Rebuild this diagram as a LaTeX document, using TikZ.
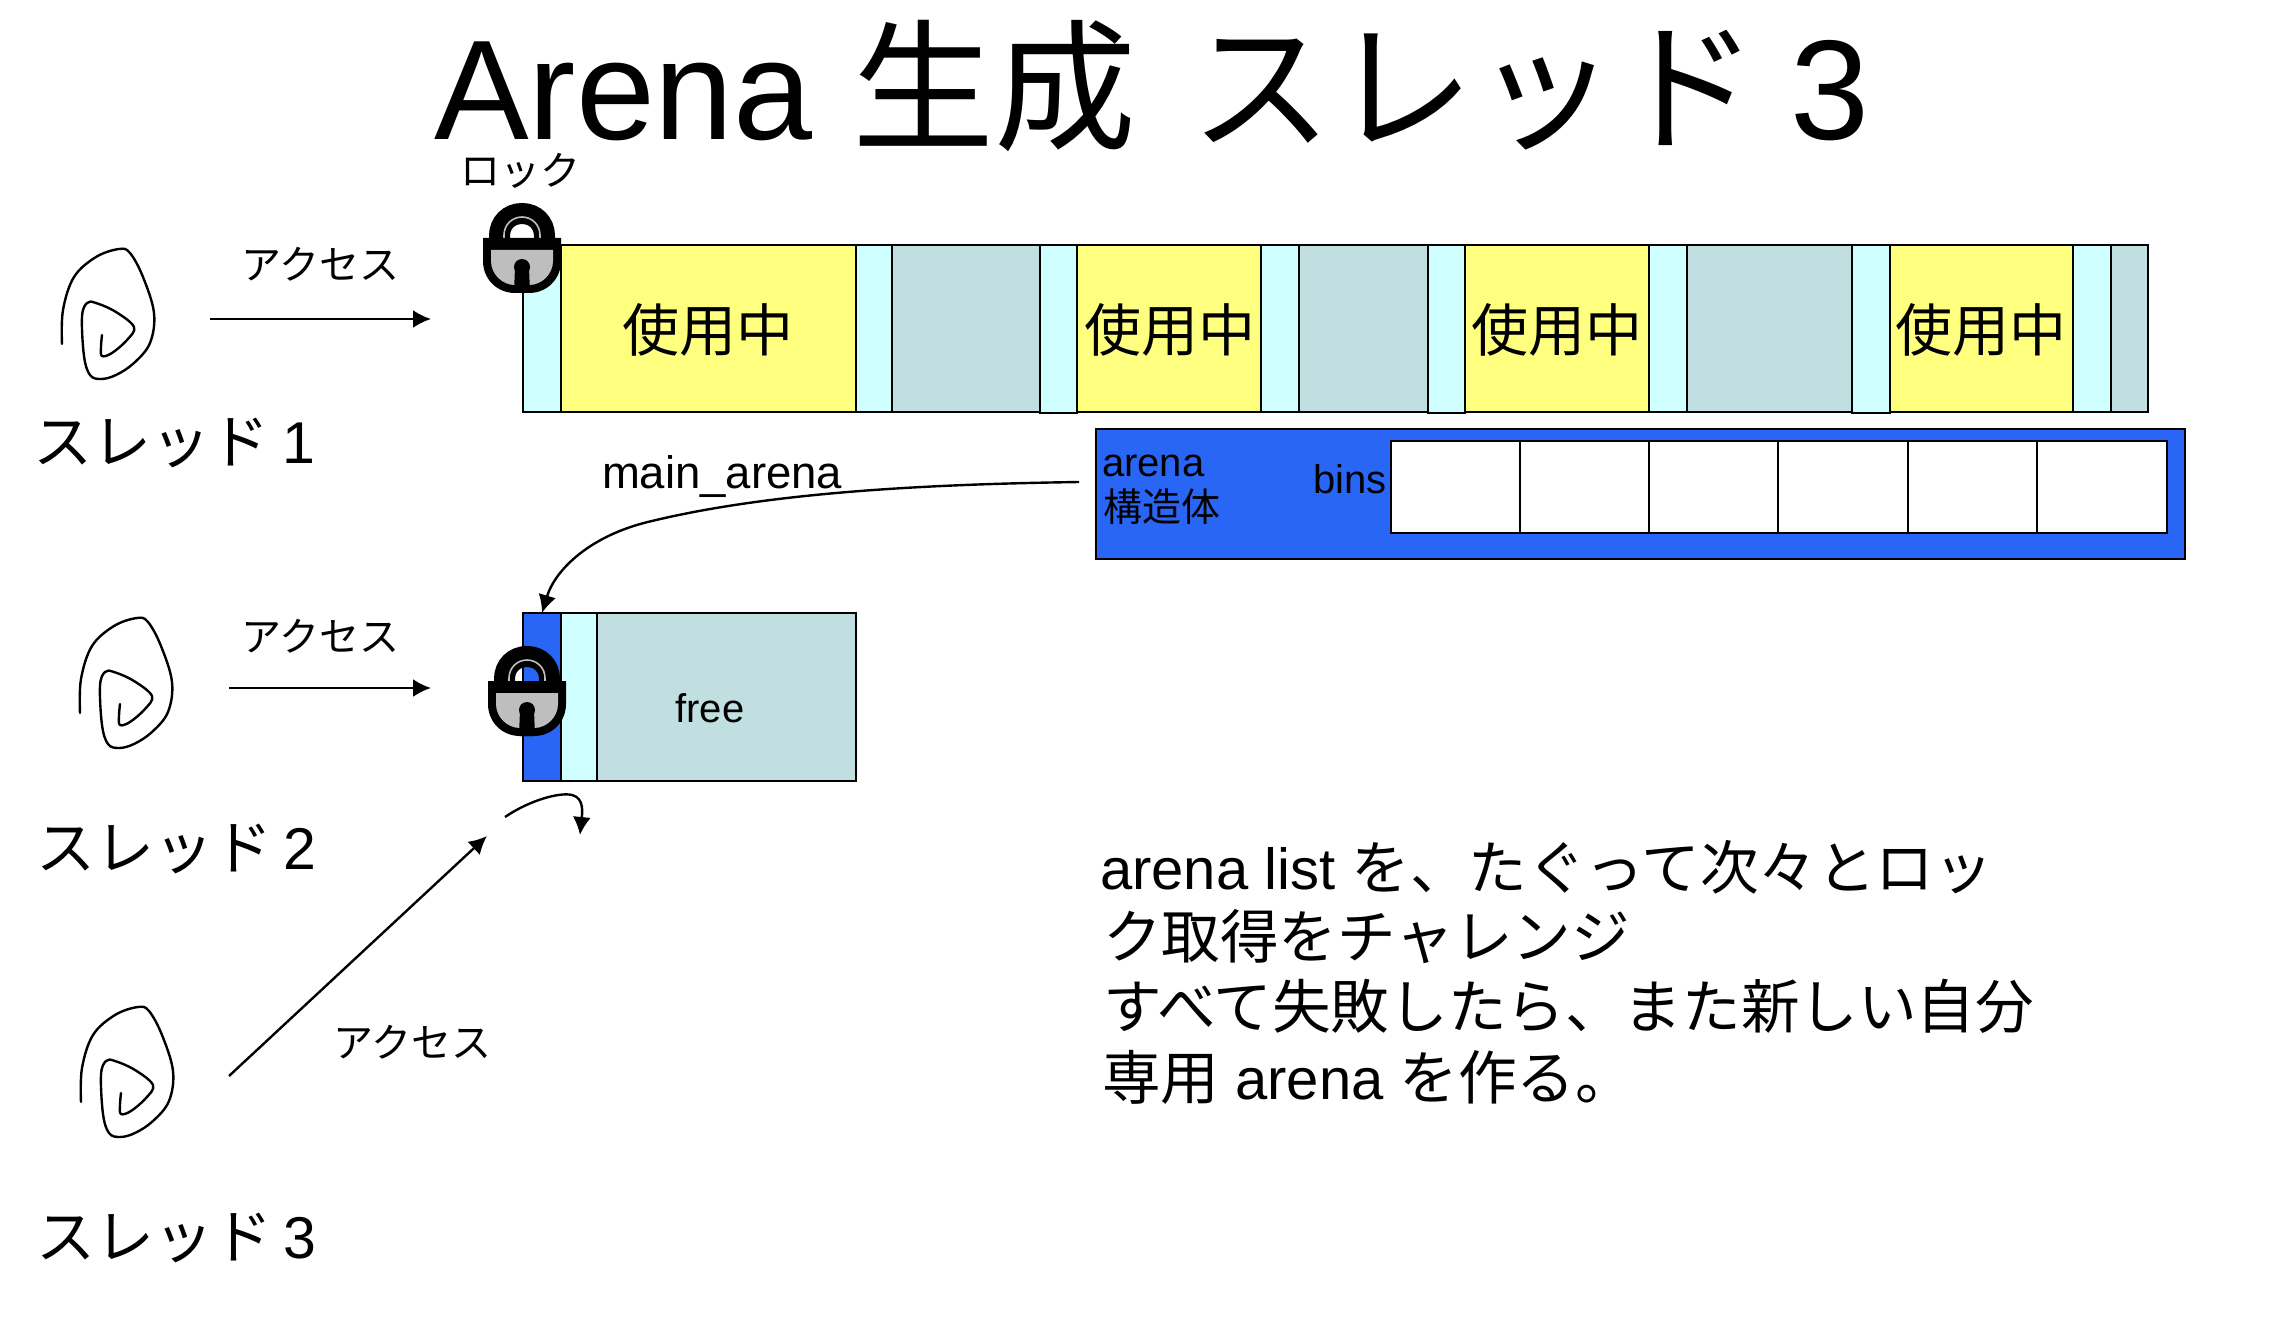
\documentclass[tikz,border=0pt]{standalone}
\usepackage{fontspec}
\setmainfont{Liberation Sans}
\newfontfamily\cjk{Noto Sans CJK JP}
\usetikzlibrary{arrows.meta}
\definecolor{cyanhd}{HTML}{CFFFFF}
\definecolor{yellowuse}{HTML}{FFFF7F}
\definecolor{tealfree}{HTML}{C1DFE1}
\definecolor{bluearena}{HTML}{2A66F5}
\definecolor{lockgray}{HTML}{BEBEBE}
\newcommand{\fsz}[1]{\fontsize{#1}{#1}\selectfont}
\tikzset{
  cellbox/.style={draw=black,line width=2.6pt,inner sep=0pt,outer sep=0pt},
  arrowline/.style={draw=black,line width=2.4pt,-{Latex[length=18pt,width=18pt]}},
  spiral/.style={draw=black,line width=2.4pt,line join=round,line cap=round},
  label40/.style={inner sep=0pt,outer sep=0pt,font=\fsz{40}},
  label57/.style={inner sep=0pt,outer sep=0pt,font=\fsz{57}},
  label58/.style={inner sep=0pt,outer sep=0pt,font=\fsz{58}},
  thlabel/.style={inner sep=0pt,outer sep=0pt,anchor=base west,font=\fsz{59}},
}
% \cellrect{name}{x1}{y1}{x2}{y2}{fill}
\newcommand{\cellrect}[6]{%
  \node[cellbox,fill=#6,minimum width={(#4-#2)*1pt},minimum height={(#5-#3)*1pt}] (#1) at ({(#2+#4)/2},{(#3+#5)/2}) {};}
\newcommand{\threadfig}[2]{%
  \draw[spiral,shift={(#1,#2)}] plot[smooth,tension=0.6] coordinates {(0,0) (1,-34) (12,-67) (34,-87) (57,-95) (68,-91) (81,-67) (92,-31) (88,-1) (72,19) (54,31) (39,35) (28,31) (22,12) (20,-27) (25,-41) (34,-41) (54,-32) (72,-17) (65,-4) (50,9) (40,12) (39,3) (40,-9)};}
\newcommand{\lockfig}[2]{%
  \begin{scope}[shift={(#1,#2)}]
    \draw[black,line width=21pt] (16.5,38) -- (16.5,33) .. controls (16.5,20) and (26,10.5) .. (39,10.5) .. controls (52,10.5) and (61.5,20) .. (61.5,33) -- (61.5,38);
    \draw[lockgray,line width=1.6pt] (21,36) -- (21,32) .. controls (21,22) and (29,14) .. (39,14) .. controls (49,14) and (57,22) .. (57,32) -- (57,36);
    \fill[black] (0,35) -- (78,35) -- (78,58) .. controls (78,76) and (64,90) .. (46,90) -- (32,90) .. controls (14,90) and (0,76) .. (0,58) -- cycle;
    \fill[lockgray] (8,47) -- (70,47) -- (70,58) .. controls (70,71) and (59,82) .. (46,82) -- (32,82) .. controls (19,82) and (8,71) .. (8,58) -- cycle;
    \fill[black] (39,64) circle[radius=8];
    \fill[black] (32,64) -- (46,64) -- (47,90) -- (31,90) -- cycle;
  \end{scope}}
\begin{document}
\begin{tikzpicture}[x=1pt,y=-1pt]
\useasboundingbox (0,0) rectangle (2270,1332);
% title
\node[inner sep=0pt,outer sep=0pt,anchor=base west,font=\fsz{142}] (title) at (434,140) {Arena {\cjk 生成\hspace{22pt} スレッド}\hspace{-7pt} 3};
% main heap bar
\cellrect{h1}{523}{245}{561}{412}{cyanhd}
\cellrect{u1}{561}{245}{856}{412}{yellowuse}
\cellrect{h2}{856}{245}{892}{412}{cyanhd}
\cellrect{f1}{892}{245}{1040}{412}{tealfree}
\cellrect{h3}{1040}{245}{1077}{413}{cyanhd}
\cellrect{u2}{1077}{245}{1261}{412}{yellowuse}
\cellrect{h4}{1261}{245}{1299}{412}{cyanhd}
\cellrect{f2}{1299}{245}{1428}{412}{tealfree}
\cellrect{h5}{1428}{245}{1465}{413}{cyanhd}
\cellrect{u3}{1465}{245}{1649}{412}{yellowuse}
\cellrect{h6}{1649}{245}{1687}{412}{cyanhd}
\cellrect{f3}{1687}{245}{1852}{412}{tealfree}
\cellrect{h7}{1852}{245}{1890}{413}{cyanhd}
\cellrect{u4}{1890}{245}{2073}{412}{yellowuse}
\cellrect{h8}{2073}{245}{2111}{412}{cyanhd}
\cellrect{f4}{2111}{245}{2148}{412}{tealfree}
\node[label57] (t1) at (708,330) {\cjk 使用中};
\node[label57] (t2) at (1170,330) {\cjk 使用中};
\node[label57] (t3) at (1557,330) {\cjk 使用中};
\node[label57] (t4) at (1981,330) {\cjk 使用中};
% arena struct
\cellrect{arena}{1096}{429}{2185}{559}{bluearena}
\cellrect{b1}{1391}{441}{1520}{533}{white}
\cellrect{b2}{1520}{441}{1649}{533}{white}
\cellrect{b3}{1649}{441}{1778}{533}{white}
\cellrect{b4}{1778}{441}{1908}{533}{white}
\cellrect{b5}{1908}{441}{2037}{533}{white}
\cellrect{b6}{2037}{441}{2167}{533}{white}
\node[label40,anchor=base west] (arenalbl) at (1102,476) {arena};
\node[inner sep=0pt,outer sep=0pt,font=\fsz{39},anchor=west] (structlbl) at (1103,507) {\cjk 構造体};
\node[label40,anchor=base east] (binslbl) at (1387,493) {bins};
% second heap
\cellrect{c1}{523}{613}{561}{781}{bluearena}
\cellrect{c2}{561}{613}{597}{781}{cyanhd}
\cellrect{c3}{597}{613}{856}{781}{tealfree}
\node[label40] (freelbl) at (710,708) {free};
% locks
\lockfig{483}{203}
\lockfig{488}{646}
\node[label40] (locklbl) at (520,171) {\cjk ロック};
% threads
\threadfig{62}{344}
\threadfig{80}{713}
\threadfig{81}{1102}
\node[thlabel] (th1) at (33,463) {{\cjk スレッド}\hspace{-3pt} 1};
\node[thlabel] (th2) at (36,869) {{\cjk スレッド}\hspace{-5pt} 2};
\node[thlabel] (th3) at (36,1258) {{\cjk スレッド}\hspace{-5pt} 3};
% access labels and arrows
\node[label40] (ac1) at (320,264) {\cjk アクセス};
\node[label40] (ac2) at (320,636) {\cjk アクセス};
\node[label40] (ac3) at (412,1042) {\cjk アクセス};
\coordinate (a1s) at (210,319);
\coordinate (a1e) at (431,319);
\coordinate (a2s) at (229,688);
\coordinate (a2e) at (431,688);
\coordinate (a3s) at (229,1076);
\coordinate (a3e) at (487,836);
\draw[arrowline] (a1s) -- (a1e);
\draw[arrowline] (a2s) -- (a2e);
\draw[arrowline] (a3s) -- (a3e);
\coordinate (retrys) at (505,817);
\coordinate (retrye) at (580,835);
\draw[arrowline] (retrys) .. controls (530,800) and (560,792) .. (572,795) .. controls (585,798) and (582,815) .. (retrye);
% main_arena
\node[inner sep=0pt,outer sep=0pt,anchor=base west,font=\fsz{45.5}] (malbl) at (602,488) {main\_arena};
\coordinate (arenaout) at (1079,482);
\coordinate (curvemid) at (652,521);
\draw[arrowline] (arenaout) .. controls (950,484) and (780,490) .. (curvemid) .. controls (590,535) and (555,570) .. (c1.north);
% paragraph
\node[label58,anchor=base west] (p1) at (1100,889) {arena list {\fsz{58.6}\cjk を、たぐって次々とロッ}};
\node[label58,anchor=base west] (p2) at (1103,958) {\fsz{58.6}\cjk ク取得をチャレンジ};
\node[label58,anchor=base west] (p3) at (1103,1028) {\fsz{58.6}\cjk すべて失敗したら、また新しい自分};
\node[label58,anchor=base west] (p4) at (1102,1099) {{\fsz{58.6}\cjk 専用} arena {\fsz{58.6}\cjk を作る。}};
\end{tikzpicture}
\end{document}
